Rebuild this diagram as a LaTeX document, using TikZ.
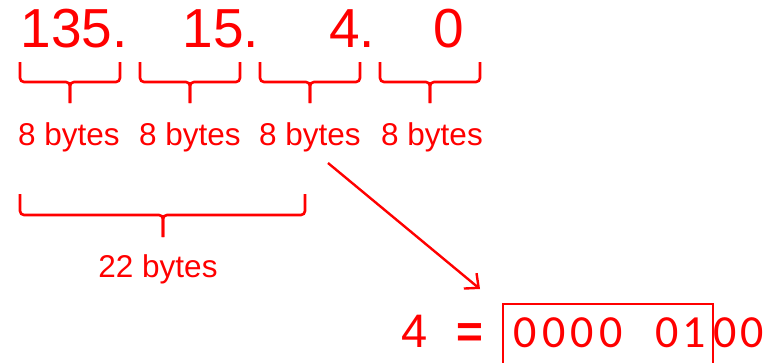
\documentclass[tikz,border=0pt]{standalone}
\usepackage{fontspec}
\setmainfont{Liberation Sans}
\newfontfamily\digitfont{Carlito}
\usetikzlibrary{arrows.meta}
\definecolor{pred}{RGB}{255,0,0}
\tikzset{
  bignum/.style={text=pred, font=\fontsize{55}{60}\selectfont, inner sep=0, anchor=base},
  lbl/.style={text=pred, font=\fontsize{31.5}{34}\selectfont, inner sep=0, anchor=base},
  eqtxt/.style={text=pred, font=\fontsize{47}{52}\selectfont, inner sep=0, anchor=base},
  bit/.style={text=pred, font=\digitfont\fontsize{46}{48}\selectfont, inner sep=0, anchor=base},
  brace/.style={draw=pred, line width=2.6pt, rounded corners=4pt},
  link/.style={draw=pred, line width=2.4pt, -{Straight Barb[length=11pt,width=20pt,line width=2.4pt]}},
  boxline/.style={draw=pred, line width=1.8pt}
}
\begin{document}
\begin{tikzpicture}[x=1pt,y=-1pt]
\useasboundingbox (0,0) rectangle (776,362);
\clip (0,0) rectangle (776,362);
% big numbers
\node[bignum] (n1) at (74,47) {135.};
\node[bignum] (n2) at (221,47) {15.};
\node[bignum] (n3) at (352,47) {4.};
\node[bignum] (n4) at (449,47) {0};
% small braces
\foreach \a/\b/\m in {20/120/70,140/240/190,260/360/310,380/480/430}{
  \draw[brace] (\a,62) -- (\a,82) -- (\m,82) -- (\m,103);
  \draw[brace] (\b,62) -- (\b,82) -- (\m,82) -- (\m,103);
}
% labels
\node[lbl] (b1) at (69,145) {8 bytes};
\node[lbl] (b2) at (190,145) {8 bytes};
\node[lbl] (b3) at (310,145) {8 bytes};
\node[lbl] (b4) at (432,145) {8 bytes};
% big brace
\draw[brace] (20,194) -- (20,215) -- (163,215) -- (163,237);
\draw[brace] (305,194) -- (305,215) -- (163,215) -- (163,237);
\node[lbl] (b22) at (158,277) {22 bytes};
% arrow
\coordinate (a1) at (328,163);
\coordinate (a2) at (480,289);
\draw[link] (a1) -- (a2);
% equation
\node[eqtxt] (four) at (415,347) {4};
\node[eqtxt, font=\bfseries\fontsize{46}{52}\selectfont] (eq) at (470,347) {=};
\draw[boxline] (503,370) -- (503,304) -- (713,304) -- (713,370);
\foreach \x/\d [count=\i] in {525/0,554/0,582/0,611/0,667/0,694/1,725/0,752/0}{
  \node[bit] (d\i) at (\x,347) {\d};
}
\end{tikzpicture}
\end{document}
